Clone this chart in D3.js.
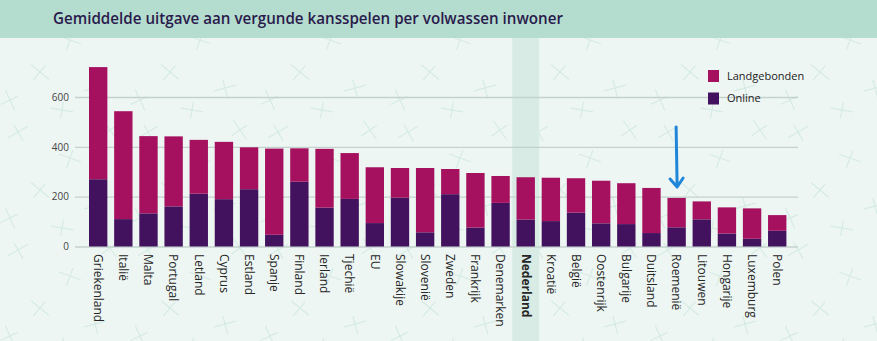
<!DOCTYPE html>
<html>
<head>
<meta charset="utf-8">
<script src="https://cdn.jsdelivr.net/npm/d3@7"></script>
<style>
  html, body { margin:0; padding:0; background:#eef6f3; }
  svg { display:block; }
</style>
</head>
<body>
<div id="chart"></div>
<script>
// data (euro per adult)
const countries = ["Griekenland","Italië","Malta","Portugal","Letland","Cyprus","Estland","Spanje","Finland","Ierland","Tjechië","EU","Slowakije","Slovenië","Zweden","Frankrijk","Denemarken","Nederland","Kroatië","België","Oostenrijk","Bulgarije","Duitsland","Roemenië","Litouwen","Hongarije","Luxemburg","Polen"];
const online = [270,110,133,161,212,190,230,47,260,156,191,94,196,57,210,76,175,108,102,136,93,90,54,77,109,52,31,63];
const totals = [720,543,443,442,428,420,398,393,394,392,375,318,315,315,311,295,283,278,276,274,264,254,235,195,181,157,153,126];
const yTicks = [0,200,400,600];
const seriesNames = ["Landgebonden","Online"];
const highlight = "Nederland";

const W = 877, H = 341;
const colors = { Landgebonden:"#a5115f", Online:"#43125e" };

const rows = countries.map((c,i)=> ({ country:c, Online: online[i], Landgebonden: totals[i] - online[i] }));

const svg = d3.select("#chart").append("svg").attr("width", W).attr("height", H);

// background + faint cross pattern
const defs = svg.append("defs");
const pat = defs.append("pattern").attr("id","crosses").attr("patternUnits","userSpaceOnUse")
  .attr("width",130).attr("height",118);
[[18,14,-30],[70,40,20],[110,12,55],[40,72,40],[95,88,-15],[10,100,65],[62,110,10]].forEach(([cx,cy,a])=>{
  const g = pat.append("g").attr("transform",`translate(${cx},${cy}) rotate(${a})`)
    .attr("stroke","#d5ebe3").attr("stroke-width",1.2).attr("stroke-linecap","round");
  g.append("line").attr("x1",-11).attr("y1",0).attr("x2",11).attr("y2",0);
  g.append("line").attr("x1",0).attr("y1",-8).attr("x2",0).attr("y2",10);
});
svg.append("rect").attr("width",W).attr("height",H).attr("fill","#eef6f3");
svg.append("rect").attr("y",38).attr("width",W).attr("height",H-38).attr("fill","url(#crosses)");

// header band
svg.append("rect").attr("width",W).attr("height",38).attr("fill","#b4ddcf");
svg.append("text").attr("x",53).attr("y",24)
  .attr("font-family","Open Sans").attr("font-weight",600).attr("font-size","17px")
  .attr("fill","#2a1a4c").attr("textLength",510).attr("lengthAdjust","spacingAndGlyphs")
  .text("Gemiddelde uitgave aan vergunde kansspelen per volwassen inwoner");

// scales
const x = d3.scaleBand().domain(countries).range([80.2, 795.2]).paddingInner(0.27).paddingOuter(0.35);
const y = d3.scaleLinear().domain([0,600]).range([246.5, 97]);

// highlight column for Nederland
svg.append("rect")
  .attr("x", x(highlight) + x.bandwidth()/2 - 13.5).attr("y",38)
  .attr("width",27).attr("height",H-38).attr("fill","#d9ebe5");

// gridlines + y axis
const axisLeft = 75, axisRight = 798;
const yAxis = svg.append("g").attr("transform",`translate(${axisLeft},0)`)
  .call(d3.axisLeft(y).tickValues(yTicks).tickSize(-(axisRight-axisLeft)).tickPadding(6));
yAxis.select(".domain").remove();
yAxis.selectAll(".tick line").attr("stroke","#c3d2cd").attr("stroke-width",1.4);
yAxis.selectAll(".tick text").attr("font-family","Open Sans").attr("font-size","10px").attr("fill","#444");

// stacked bars
const stack = d3.stack().keys(["Online","Landgebonden"])(rows);
svg.selectAll("g.series").data(stack).enter().append("g").attr("class","series")
  .attr("fill", d=> colors[d.key])
  .selectAll("rect").data(d=>d).enter().append("rect")
    .attr("x", d=> x(d.data.country))
    .attr("y", d=> y(d[1]))
    .attr("width", x.bandwidth())
    .attr("height", d=> y(d[0]) - y(d[1]));

// x labels, rotated
svg.append("g").selectAll("text").data(countries).enter().append("text")
  .attr("transform", d=> `translate(${x(d)+x.bandwidth()/2},254) rotate(90)`)
  .attr("dy","0.35em")
  .attr("font-family","Open Sans").attr("font-size","12px")
  .attr("font-weight", d=> d===highlight ? 700 : 400)
  .attr("fill","#262626")
  .text(d=>d);

// legend
const legend = svg.append("g").attr("transform","translate(708,70)");
seriesNames.forEach((s,i)=>{
  const g = legend.append("g").attr("transform",`translate(0,${i*22.5})`);
  g.append("rect").attr("width",11).attr("height",12).attr("fill",colors[s]);
  g.append("text").attr("x",19).attr("y",6).attr("dy","0.35em")
    .attr("font-family","Open Sans").attr("font-size","11px").attr("fill","#222").text(s);
});

// blue hand-drawn arrow pointing at Roemenië
const ax = x("Roemenië") + x.bandwidth()/2 + 0.5;
svg.append("path")
  .attr("d",`M${ax-1},127 L${ax},186 M${ax-7},179 L${ax},187 L${ax+6},178`)
  .attr("fill","none").attr("stroke","#1f86d9").attr("stroke-width",3)
  .attr("stroke-linecap","round").attr("stroke-linejoin","round");
</script>
</body>
</html>
